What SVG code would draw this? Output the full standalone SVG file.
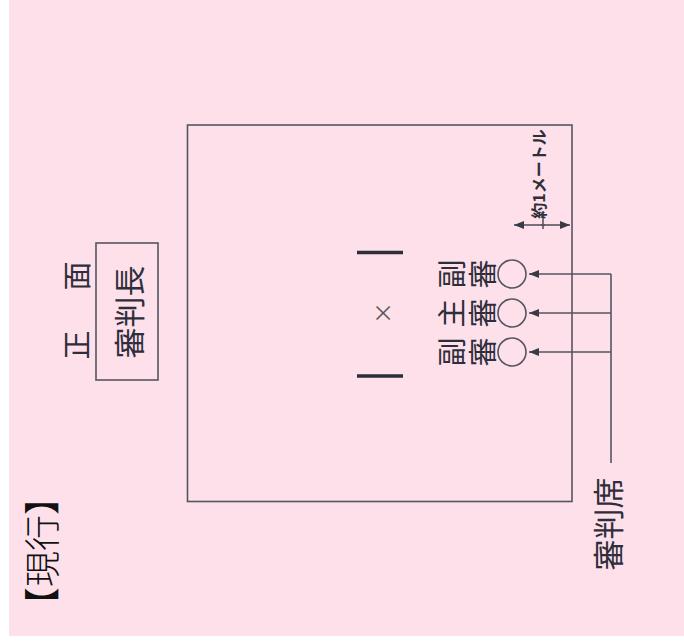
<svg xmlns="http://www.w3.org/2000/svg" width="684" height="643" viewBox="0 0 684 643">
<defs>
<style>
.t{font-family:"Noto Sans CJK JP","Noto Sans CJK SC",sans-serif;fill:#2e2e3a;text-anchor:middle;dominant-baseline:central}
.ln{stroke:#55555f;stroke-width:1.6;fill:none}
.bar{stroke:#2e2e36;stroke-width:3.5}
</style>
<marker id="ah" viewBox="0 0 10 8" refX="10" refY="4" markerWidth="10" markerHeight="8" markerUnits="userSpaceOnUse" orient="auto">
<path d="M0,0 L10,4 L0,8 Z" fill="#3a3a44"/>
</marker>
</defs>
<rect x="0" y="0" width="684" height="643" fill="#ffffff"/>
<rect x="9" y="0" width="675" height="636" fill="#fde0ea"/>

<g id="title">
<text class="t" transform="translate(40,551) rotate(-90)" font-size="36" font-weight="300" style="fill:#111">【現行】</text>
</g>

<g id="front">
<text class="t" transform="translate(75,345) rotate(-90)" font-size="29">正</text>
<text class="t" transform="translate(75,276) rotate(-90)" font-size="29">面</text>
</g>

<g id="chief">
<rect x="96" y="243" width="62" height="137" class="ln"/>
<text class="t" transform="translate(127,312) rotate(-90)" font-size="31">審判長</text>
</g>

<g id="court">
<rect x="187.5" y="125" width="384.5" height="376.5" class="ln"/>
<line x1="357" y1="252.5" x2="403" y2="252.5" class="bar"/>
<line x1="357" y1="376" x2="403" y2="376" class="bar"/>
<text class="t" transform="translate(381,313) rotate(-90)" font-size="22" style="fill:#555">×</text>
</g>

<g id="judge1">
<text class="t" transform="translate(450,274) rotate(-90)" font-size="29">副</text>
<text class="t" transform="translate(481,274) rotate(-90)" font-size="29">審</text>
<circle cx="512" cy="274" r="14" class="ln"/>
</g>
<g id="judge2">
<text class="t" transform="translate(450,313) rotate(-90)" font-size="29">主</text>
<text class="t" transform="translate(481,313) rotate(-90)" font-size="29">審</text>
<circle cx="512" cy="313" r="14" class="ln"/>
</g>
<g id="judge3">
<text class="t" transform="translate(450,352) rotate(-90)" font-size="29">副</text>
<text class="t" transform="translate(481,352) rotate(-90)" font-size="29">審</text>
<circle cx="512" cy="352" r="14" class="ln"/>
</g>

<g id="seat">
<text class="t" transform="translate(606,524) rotate(-90)" font-size="31">審判席</text>
</g>

<g id="dimension">
<line x1="543" y1="211" x2="543" y2="229" class="ln"/>
<line x1="545" y1="225" x2="514" y2="225" class="ln" marker-end="url(#ah)"/>
<line x1="541" y1="225" x2="570" y2="225" class="ln" marker-end="url(#ah)"/>
<text class="t" transform="translate(538,174) rotate(-90)" font-size="16" font-weight="bold">約1メートル</text>
</g>

<g id="connectors">
<line x1="611" y1="274" x2="611" y2="463" class="ln"/>
<line x1="611" y1="274" x2="529" y2="274" class="ln" marker-end="url(#ah)"/>
<line x1="611" y1="313" x2="529" y2="313" class="ln" marker-end="url(#ah)"/>
<line x1="611" y1="352" x2="529" y2="352" class="ln" marker-end="url(#ah)"/>
</g>
</svg>
